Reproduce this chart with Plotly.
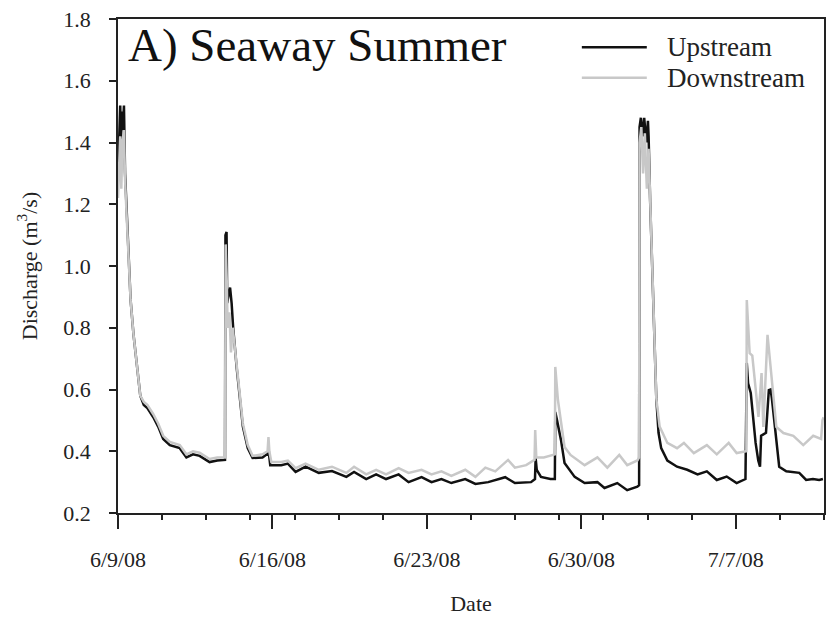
import pandas as pd
import plotly.graph_objects as go

START = pd.Timestamp("2008-06-09 00:00")

# elapsed days since 6/9/08 00:00 and discharge (m3/s)
up_days = [0.00, 0.05, 0.10, 0.14, 0.18, 0.22, 0.27, 0.32, 0.40, 0.45, 0.57, 0.70, 0.88, 1.01, 1.17,
           1.33, 1.60, 1.82, 2.05, 2.35, 2.80, 3.10, 3.40, 3.70, 4.15, 4.50, 4.85, 4.87, 4.92, 4.95,
           5.02, 5.08, 5.15, 5.22, 5.38, 5.52, 5.66, 5.88, 6.10, 6.55, 6.78, 6.83, 6.90, 7.40, 7.70,
           8.05, 8.50, 9.10, 9.70, 10.35, 10.70, 11.25, 11.70, 12.15, 12.72, 13.17, 13.76, 14.21, 14.66,
           15.11, 15.74, 16.20, 16.78, 17.55, 17.99, 18.72, 18.90, 18.93, 18.98, 19.17, 19.60, 19.80,
           19.82, 19.90, 20.08, 20.24, 20.70, 21.15, 21.73, 22.05, 22.63, 23.08, 23.54, 23.62, 23.64,
           23.70, 23.78, 23.85, 23.95, 24.02, 24.05, 24.12, 24.22, 24.30, 24.40, 24.50, 24.62, 24.90,
           25.34, 25.80, 26.27, 26.69, 27.14, 27.59, 28.04, 28.44, 28.50, 28.56, 28.68, 28.90, 29.02,
           29.10, 29.15, 29.37, 29.50, 29.58, 29.64, 29.84, 29.97, 30.29, 30.88, 31.19, 31.50, 31.78, 31.95]
up_vals = [1.28, 1.45, 1.52, 1.40, 1.50, 1.44, 1.52, 1.30, 1.15, 1.08, 0.89, 0.78, 0.67, 0.58, 0.55,
           0.54, 0.51, 0.48, 0.44, 0.42, 0.41, 0.38, 0.39, 0.385, 0.365, 0.37, 0.372, 1.10, 1.11, 0.88,
           0.91, 0.93, 0.88, 0.80, 0.67, 0.57, 0.48, 0.41, 0.378, 0.38, 0.392, 0.40, 0.355, 0.355, 0.36,
           0.333, 0.35, 0.33, 0.336, 0.317, 0.333, 0.31, 0.325, 0.31, 0.325, 0.30, 0.316, 0.30, 0.31,
           0.297, 0.31, 0.294, 0.30, 0.316, 0.297, 0.30, 0.31, 0.378, 0.34, 0.317, 0.31, 0.31,
           0.527, 0.50, 0.436, 0.362, 0.317, 0.297, 0.30, 0.281, 0.297, 0.274, 0.285, 0.29, 1.45,
           1.48, 1.42, 1.48, 1.40, 1.47, 1.42, 1.21, 1.00, 0.78, 0.57, 0.46, 0.41, 0.37,
           0.35, 0.34, 0.325, 0.335, 0.307, 0.318, 0.297, 0.31, 0.686, 0.62, 0.589, 0.427, 0.37,
           0.35, 0.45, 0.46, 0.598, 0.60, 0.57, 0.436, 0.35, 0.335, 0.33, 0.307, 0.31, 0.307, 0.31]

down_days = [0.00, 0.05, 0.10, 0.15, 0.20, 0.27, 0.32, 0.40, 0.45, 0.57, 0.70, 0.88, 1.01, 1.17, 1.33,
             1.60, 1.82, 2.05, 2.35, 2.80, 3.10, 3.40, 3.70, 4.15, 4.50, 4.85, 4.88, 4.93, 4.97, 5.05,
             5.12, 5.20, 5.38, 5.52, 5.66, 5.88, 6.10, 6.55, 6.78, 6.82, 6.86, 6.95, 7.40, 7.70, 8.05,
             8.50, 9.10, 9.70, 10.35, 10.70, 11.25, 11.70, 12.15, 12.72, 13.17, 13.76, 14.21, 14.66,
             15.11, 15.74, 16.20, 16.65, 17.10, 17.68, 17.99, 18.50, 18.88, 18.91, 18.96, 19.30, 19.70,
             19.80, 19.82, 19.90, 19.94, 20.24, 20.51, 21.15, 21.73, 22.18, 22.72, 23.08, 23.54, 23.62,
             23.64, 23.72, 23.80, 23.88, 23.97, 24.05, 24.12, 24.22, 24.30, 24.40, 24.55, 24.90, 25.34,
             25.65, 26.10, 26.69, 27.14, 27.68, 28.04, 28.40, 28.48, 28.50, 28.56, 28.63, 28.75, 29.03,
             29.17, 29.25, 29.44, 29.53, 29.71, 29.84, 30.16, 30.61, 31.06, 31.51, 31.87, 31.93, 31.98]
down_vals = [1.22, 1.35, 1.42, 1.25, 1.40, 1.44, 1.28, 1.15, 1.08, 0.89, 0.78, 0.67, 0.58, 0.56, 0.55,
             0.52, 0.49, 0.45, 0.43, 0.42, 0.39, 0.40, 0.395, 0.375, 0.38, 0.38, 1.07, 0.95, 0.80, 0.85,
             0.72, 0.80, 0.67, 0.57, 0.49, 0.42, 0.385, 0.39, 0.40, 0.446, 0.40, 0.365, 0.365, 0.37, 0.345,
             0.36, 0.34, 0.35, 0.33, 0.35, 0.325, 0.34, 0.325, 0.345, 0.33, 0.34, 0.325, 0.335,
             0.32, 0.34, 0.317, 0.347, 0.335, 0.372, 0.347, 0.355, 0.372, 0.469, 0.38, 0.38, 0.388,
             0.39, 0.673, 0.60, 0.566, 0.414, 0.388, 0.355, 0.38, 0.347, 0.388, 0.355, 0.37, 0.38,
             1.40, 1.45, 1.30, 1.43, 1.25, 1.38, 1.21, 1.00, 0.78, 0.57, 0.48, 0.427, 0.41,
             0.427, 0.394, 0.42, 0.39, 0.427, 0.394, 0.397, 0.40, 0.89, 0.80, 0.718, 0.71, 0.511,
             0.653, 0.479, 0.777, 0.71, 0.59, 0.479, 0.459, 0.45, 0.42, 0.45, 0.44, 0.50, 0.51]

series_names = ["Upstream", "Downstream"]
series_colors = ["#111111", "#c8c8c8"]

tick_dates = ["2008-06-09", "2008-06-16", "2008-06-23", "2008-06-30", "2008-07-07"]
tick_labels = ["6/9/08", "6/16/08", "6/23/08", "6/30/08", "7/7/08"]
y_ticks = [0.2, 0.4, 0.6, 0.8, 1.0, 1.2, 1.4, 1.6, 1.8]

up_t = START + pd.to_timedelta(up_days, unit="D")
down_t = START + pd.to_timedelta(down_days, unit="D")

FONT = "Liberation Serif"
TXT = "#222222"

fig = go.Figure()
fig.add_trace(go.Scatter(x=up_t, y=up_vals, mode="lines", name=series_names[0],
                         line=dict(color=series_colors[0], width=2.5), showlegend=False))
fig.add_trace(go.Scatter(x=down_t, y=down_vals, mode="lines", name=series_names[1],
                         line=dict(color=series_colors[1], width=2.5), showlegend=False))

# legend drawn as key lines + labels inside the plot area (paper coordinates)
legend_y = [0.943, 0.881]
shapes = []
annotations = []
for name, col, ly in zip(series_names, series_colors, legend_y):
    shapes.append(dict(type="line", xref="paper", yref="paper", x0=0.657, x1=0.749, y0=ly, y1=ly,
                       line=dict(color=col, width=2.5)))
    annotations.append(dict(text=name, xref="paper", yref="paper", x=0.775, y=ly,
                            xanchor="left", yanchor="middle", showarrow=False,
                            font=dict(family=FONT, size=27, color=TXT)))
annotations.append(dict(text="A) Seaway Summer", xref="paper", yref="paper",
                        x=0.012, y=1.005, xanchor="left", yanchor="top", showarrow=False,
                        font=dict(family=FONT, size=47, color="#111111")))

fig.update_layout(
    width=828, height=619,
    margin=dict(l=118, r=2, t=19, b=106),
    paper_bgcolor="white", plot_bgcolor="white",
    font=dict(family=FONT, color=TXT, size=22),
    showlegend=False,
    shapes=shapes,
    annotations=annotations,
)

fig.update_xaxes(
    type="date", range=["2008-06-09", "2008-07-11"],
    tickvals=tick_dates, ticktext=tick_labels,
    ticks="outside", ticklen=14, tickwidth=1.5, tickcolor=TXT,
    ticklabelstandoff=12,
    minor=dict(ticks="outside", ticklen=5, tickwidth=1.5, tickcolor=TXT,
               tick0="2008-06-09", dtick=2 * 86400000),
    showline=True, linecolor=TXT, linewidth=1.5, mirror=True,
    showgrid=False, zeroline=False,
    tickfont=dict(family=FONT, size=22, color=TXT),
    title=dict(text="Date", font=dict(family=FONT, size=22, color=TXT), standoff=24),
)
fig.update_yaxes(
    range=[0.2, 1.8], tickvals=y_ticks, tickformat=".1f",
    ticks="outside", ticklen=7, tickwidth=1.5, tickcolor=TXT,
    ticklabelstandoff=14,
    showline=True, linecolor=TXT, linewidth=1.5, mirror=True,
    showgrid=False, zeroline=False,
    tickfont=dict(family=FONT, size=22, color=TXT),
    title=dict(text="Discharge (m<sup>3</sup>/s)", font=dict(family=FONT, size=22, color=TXT),
               standoff=20),
)

fig.write_html("out.html")
